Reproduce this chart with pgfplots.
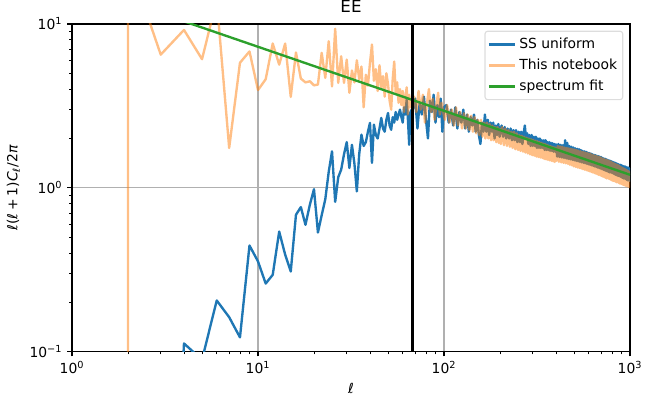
\documentclass[border=0pt]{standalone}
\usepackage{pgfplots}
\pgfplotsset{compat=1.18}
\usepackage{fontspec}
\setmainfont{DejaVu Sans}
\usetikzlibrary{calc}
\definecolor{c0}{HTML}{1F77B4}
\definecolor{c1}{HTML}{FF7F0E}
\definecolor{c2}{HTML}{2CA02C}
\definecolor{gridc}{HTML}{B0B0B0}
\definecolor{legc}{HTML}{DDDDDD}
\begin{document}
\begin{tikzpicture}
\begin{axis}[
  scale only axis, width=401.76pt, height=235.8pt,
  xmode=log, ymode=log,
  xmin=1, xmax=1000, ymin=0.1, ymax=10,
  xtick={1,10,100,1000},
  xticklabels={10\textsuperscript{0},10\textsuperscript{1},10\textsuperscript{2},10\textsuperscript{3}},
  ytick={0.1,1,10},
  yticklabels={10\textsuperscript{−1},10\textsuperscript{0},10\textsuperscript{1}},
  minor xtick={2,3,4,5,6,7,8,9,20,30,40,50,60,70,80,90,200,300,400,500,600,700,800,900},
  minor ytick={0.2,0.3,0.4,0.5,0.6,0.7,0.8,0.9,2,3,4,5,6,7,8,9},
  tick align=outside, tick pos=left,
  major tick length=3.5pt, minor tick length=2pt,
  every tick/.style={black, line width=0.8pt},
  minor tick style={line width=0.6pt},
  grid=major, major grid style={gridc, line width=0.8pt},
  axis line style={line width=0.8pt},
  ticklabel style={font=\fontsize{10}{12}\selectfont},
  label style={font=\fontsize{10}{12}\selectfont},
  title={EE}, title style={font=\fontsize{12}{14}\selectfont, yshift=-1pt},
  xlabel={\textit{ℓ}},
  ylabel={\textit{ℓ}(\textit{ℓ}\kern2pt+\kern2pt1)\textit{C}\textsubscript{\textit{ℓ}}/2\textit{π}},
  legend style={at={(1,1)}, anchor=north east, xshift=-4.8pt, yshift=-4.8pt,
    draw=legc, fill=white, rounded corners=2pt, line width=0.8pt,
    font=\fontsize{10}{12}\selectfont, row sep=2pt, inner xsep=2pt, inner ysep=3pt},
  legend cell align=left,
  legend image code/.code={\draw[#1] (0pt,0pt) -- (19pt,0pt);},
]
\addplot[c0, line width=1.7pt, line join=round] coordinates {
(2,0.0001)(3,0.0001)(4,0.112)(5,0.089)(6,0.205)(7,0.162)(8,0.122)(9,0.444)(10,0.355)(11,0.26)(12,0.294)(13,0.54)(14,0.39)(15,0.308)(16,0.684)(17,0.762)(18,0.594)(19,0.787)(20,0.98)(21,0.533)(22,0.68)(23,0.85)(24,1.25)(25,1.67)(26,0.82)(27,1.16)(28,1.29)(29,1.6)(30,1.9)(31,1.32)(32,1.83)(33,1.4)(34,0.95)(35,1.6)(36,2.11)(37,1.8)(38,1.9)(39,2.2)(40,2.49)(41,1.42)(42,2.43)(43,2.1)(44,2.0)(45,2.3)(46,2.67)(47,2.3)(48,2.2)(49,2.6)(50,2.86)(51,2.4)(52,2.26)(53,2.7)(54,2.5)(55,2.9)(56,2.6)(57,2.8)(58,3.0)(59,2.7)(60,2.5)(61,3.1)(62,2.8)(63,3.45)(64,2.6)(65,1.83)(66,2.9)(67,3.0)
(68,3.0)(70,3.5)(72,2.3)(74,3.3)(76,2.8)(78,3.6)(80,2.6)(82,2.0)(84,3.4)(86,2.9)(88,3.7)(90,2.5)(92,3.2)(94,2.7)(96,3.5)(98,2.2)(100,3.1)
(103,3.2)(106,2.5)(109,3.0)(112,2.4)(115,3.1)(118,2.3)(121,2.9)(124,2.5)(127,3.0)(130,2.3)(133,2.8)(136,2.2)(139,2.7)(142,2.4)(145,2.8)(148,2.2)(151,2.6)(154,2.1)(157,1.85)(160,2.5)(163,2.2)(166,2.8)(169,2.2)(172,2.6)(175,2.1)(178,2.5)(181,2.2)(184,2.5)(187,2.0)(190,2.4)(193,2.1)(196,2.45)(199,2.05)
(204,2.4)(208,2.05)(212,2.35)(216,2.0)(220,2.3)(224,2.0)(228,2.3)(232,1.95)(236,2.25)(240,1.95)(244,2.25)(248,1.9)(252,2.2)(256,1.9)(260,2.2)(264,1.85)(268,2.15)(272,2.4)(276,2.0)(280,2.15)(284,1.85)(288,2.1)(292,1.8)(296,2.1)(300,1.8)(304,2.05)(308,1.8)(312,2.05)(316,1.75)(320,2.0)(324,1.75)(328,2.0)(332,1.75)(336,1.95)(340,1.75)(344,1.95)(348,1.7)(352,1.95)(356,1.7)(360,1.9)(364,1.7)(368,1.9)(372,1.68)(376,1.88)(380,1.68)(384,1.87)(388,1.66)(392,1.85)(396,1.66)(400,1.84)
(406,1.55)(412,1.85)(418,1.54)(424,1.83)(430,1.53)(436,1.82)(442,1.52)(448,1.95)(454,1.51)(460,1.88)(466,1.5)(472,1.8)(478,1.49)(484,1.78)(490,1.48)(496,1.76)(502,1.47)(508,1.74)(514,1.46)(520,1.73)(526,1.45)(532,1.72)(538,1.44)(544,1.7)(550,1.43)(556,1.68)(562,1.42)(568,1.67)(574,1.41)(580,1.66)(586,1.4)(592,1.64)(598,1.39)(604,1.63)(610,1.38)(616,1.62)(622,1.37)(628,1.6)(634,1.36)(640,1.59)(646,1.35)(652,1.58)(658,1.34)(664,1.57)(670,1.33)(676,1.56)(682,1.32)(688,1.55)(694,1.31)(700,1.54)(706,1.3)(712,1.52)(718,1.29)(724,1.51)(730,1.28)(736,1.5)(742,1.27)(748,1.49)(754,1.26)(760,1.48)(766,1.25)(772,1.47)(778,1.24)(784,1.46)(790,1.24)(796,1.45)(802,1.23)(808,1.44)(814,1.22)(820,1.43)(826,1.21)(832,1.42)(838,1.2)(844,1.41)(850,1.19)(856,1.4)(862,1.18)(868,1.39)(874,1.18)(880,1.38)(886,1.17)(892,1.38)(898,1.16)(904,1.37)(910,1.15)(916,1.36)(922,1.14)(928,1.35)(934,1.14)(940,1.35)(946,1.13)(952,1.34)(958,1.12)(964,1.33)(970,1.11)(976,1.33)(982,1.11)(988,1.32)(994,1.1)(1000,1.31)
};
\addlegendentry{SS uniform}
\addplot[c1, line width=1.7pt, line join=round, draw opacity=0.5] coordinates {
(2,0.000001)(2,25)(3,6.5)(4,9.2)(5,6.1)(6,14)(7,1.75)(8,5.8)(9,6.8)(10,3.95)(11,4.6)(12,7.6)(13,5.65)(14,7.6)(15,3.59)(16,6.7)(17,4.64)(18,4.4)(19,4.47)(20,4.22)(21,4.27)(22,6.67)(23,4.69)(24,7.85)(25,4.16)(26,9.35)(27,4.37)(28,6.35)(29,4.37)(30,6.06)(31,3.8)(32,5.2)(33,4.4)(34,6.0)(35,4.6)(36,5.5)(37,3.1)(38,4.9)(39,4.2)(40,5.8)(41,7.5)(42,4.5)(43,5.3)(44,3.9)(45,5.6)(46,4.1)(47,4.8)(48,3.6)(49,5.0)(50,4.3)(51,3.4)(52,3.0)(53,4.6)(54,5.9)(55,3.8)(56,4.4)(57,3.3)(58,4.0)(59,3.2)(60,3.9)(61,2.9)(62,3.6)(63,4.1)(64,2.8)(65,3.7)(66,3.1)(67,3.5)
(69,3.6)(71,2.9)(73,3.9)(75,3.0)(77,3.7)(79,2.5)(81,3.3)(83,4.0)(85,2.9)(87,3.5)(89,2.6)(91,3.2)(93,3.8)(95,2.8)(97,3.3)(99,2.9)
(101,2.6)(104,3.2)(107,2.5)(110,3.0)(113,2.4)(116,3.1)(119,2.4)(122,2.9)(125,2.3)(128,2.85)(131,2.3)(134,2.8)(137,2.25)(140,2.75)(143,2.2)(146,2.7)(149,2.15)(152,2.6)(155,2.1)(158,2.6)(161,2.05)(164,2.5)(167,2.0)(170,2.5)(173,2.0)(176,2.45)(179,1.95)(182,2.4)(185,1.95)(188,2.35)(191,1.9)(194,2.35)(197,1.88)(200,2.3)
(202,1.85)(206,2.35)(210,1.82)(214,2.3)(218,1.8)(222,2.25)(226,1.78)(230,2.2)(234,1.75)(238,2.2)(242,1.72)(246,2.15)(250,1.7)(254,2.1)(258,1.68)(262,2.08)(266,1.66)(270,2.05)(274,1.64)(278,2.02)(282,1.62)(286,2.0)(290,1.6)(294,1.98)(298,1.58)(302,1.96)(306,1.57)(310,1.94)(314,1.55)(318,1.92)(322,1.54)(326,1.9)(330,1.53)(334,1.88)(338,1.52)(342,1.86)(346,1.5)(350,1.85)(354,1.49)(358,1.83)(362,1.48)(366,1.81)(370,1.47)(374,1.8)(378,1.46)(382,1.78)(386,1.45)(390,1.77)(394,1.44)(398,1.76)
(403,1.46)(409,1.8)(415,1.44)(421,1.79)(427,1.43)(433,1.78)(439,1.42)(445,1.76)(451,1.41)(457,1.75)(463,1.4)(469,1.74)(475,1.38)(481,1.73)(487,1.37)(493,1.72)(499,1.35)(505,1.71)(511,1.34)(517,1.7)(523,1.33)(529,1.68)(535,1.32)(541,1.67)(547,1.31)(553,1.66)(559,1.3)(565,1.65)(571,1.29)(577,1.64)(583,1.28)(589,1.63)(595,1.27)(601,1.62)(607,1.26)(613,1.61)(619,1.25)(625,1.59)(631,1.24)(637,1.58)(643,1.23)(649,1.57)(655,1.22)(661,1.56)(667,1.21)(673,1.55)(679,1.2)(685,1.54)(691,1.19)(697,1.53)(703,1.18)(709,1.51)(715,1.17)(721,1.5)(727,1.16)(733,1.49)(739,1.15)(745,1.48)(751,1.14)(757,1.47)(763,1.14)(769,1.46)(775,1.13)(781,1.45)(787,1.12)(793,1.44)(799,1.11)(805,1.42)(811,1.1)(817,1.41)(823,1.1)(829,1.4)(835,1.09)(841,1.39)(847,1.08)(853,1.38)(859,1.08)(865,1.37)(871,1.07)(877,1.36)(883,1.06)(889,1.34)(895,1.06)(901,1.33)(907,1.05)(913,1.32)(919,1.04)(925,1.31)(931,1.04)(937,1.3)(943,1.03)(949,1.29)(955,1.03)(961,1.28)(967,1.02)(973,1.27)(979,1.02)(985,1.26)(991,1.01)(997,1.26)
};
\addlegendentry{This notebook}
\addplot[c2, line width=1.7pt] coordinates {(2,13.6)(4.4,10)(10,7.26)(100,2.95)(1000,1.2)};
\addlegendentry{spectrum fit}
\addplot[black, line width=2pt, forget plot] coordinates {(68,0.01)(68,100)};
\end{axis}
\pgfresetboundingbox
\path[use as bounding box] ($(current axis.south west)+(-51.84pt,-39.24pt)$) rectangle ($(current axis.north east)+(13.68pt,17.28pt)$);
\end{tikzpicture}
\end{document}
